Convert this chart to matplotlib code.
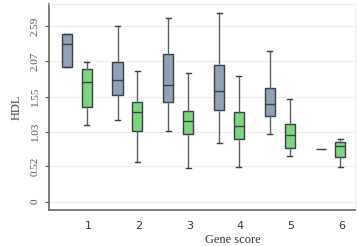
#!/usr/bin/env python3
"""Boxplot de HDL según gene score (dos grupos)."""

import matplotlib
matplotlib.use('Agg')
import matplotlib.pyplot as plt

plt.rcParams['font.family'] = 'serif'
plt.rcParams['font.serif'] = ['Liberation Serif', 'DejaVu Serif']

# Datos (whislo, q1, med, q3, whishi)
scores = [1, 2, 3, 4, 5, 6]
azul_lo = [1.99, 1.21, 1.04, 0.87, 1.00, 0.78]
azul_q1 = [1.99, 1.57, 1.47, 1.35, 1.26, 0.78]
azul_med = [2.33, 1.80, 1.72, 1.63, 1.44, 0.78]
azul_q3 = [2.48, 2.06, 2.18, 2.01, 1.67, 0.78]
azul_hi = [2.48, 2.59, 2.71, 2.78, 2.22, 0.78]

verde_lo = [1.13, 0.59, 0.49, 0.51, 0.67, 0.51]
verde_q1 = [1.40, 1.04, 0.99, 0.93, 0.79, 0.65]
verde_med = [1.77, 1.32, 1.19, 1.11, 0.98, 0.82]
verde_q3 = [1.96, 1.47, 1.34, 1.32, 1.15, 0.88]
verde_hi = [2.06, 1.93, 1.89, 1.86, 1.52, 0.93]

yticks = [0, 0.52, 1.03, 1.55, 2.07, 2.59]


def stats(lo, q1, med, q3, hi):
    return [dict(whislo=a, q1=b, med=c, q3=d, whishi=e, fliers=[])
            for a, b, c, d, e in zip(lo, q1, med, q3, hi)]


fig = plt.figure(figsize=(3.58, 2.46), dpi=100)
ax = fig.add_axes([0.137, 0.145, 0.855, 0.84])

linea = dict(color='#3a3f47', linewidth=1.0)
comun = dict(showfliers=False, patch_artist=True, widths=0.2,
             whiskerprops=dict(color='#5a5f66', linewidth=1.0),
             capprops=dict(color='#3a3f47', linewidth=1.0),
             medianprops=linea)

b1 = ax.bxp(stats(azul_lo, azul_q1, azul_med, azul_q3, azul_hi),
            positions=[s - 0.42 for s in scores],
            boxprops=dict(facecolor='#8fa2b8', edgecolor='#3a3f47', linewidth=1.0),
            **comun)
b2 = ax.bxp(stats(verde_lo, verde_q1, verde_med, verde_q3, verde_hi),
            positions=[s - 0.03 for s in scores],
            boxprops=dict(facecolor='#7dd67d', edgecolor='#3a3f47', linewidth=1.0),
            **comun)

# el grupo 6 azul solo muestra la mediana
for art in ('boxes', 'whiskers', 'caps'):
    items = b1[art]
    n = len(items) // len(scores)
    for it in items[-n:]:
        it.set_visible(False)

ax.set_xlim(0.23, 6.26)
ax.set_ylim(-0.13, 2.92)
ax.set_xticks(scores)
ax.set_xticklabels([str(s) for s in scores], family='sans-serif')
ax.set_yticks(yticks)
ax.set_yticklabels([str(t) for t in yticks], rotation=90, va='center', fontsize=8)
ax.tick_params(axis='x', length=0, labelsize=8, pad=8, colors='#333333')
ax.tick_params(axis='y', length=3, colors='#555555', labelcolor='#555555')
ax.grid(axis='y', color='#eeeeee', linewidth=0.8)
ax.set_axisbelow(True)

for lado in ('left', 'bottom'):
    ax.spines[lado].set_color('#666666')
    ax.spines[lado].set_linewidth(1.2)
for lado in ('top', 'right'):
    ax.spines[lado].set_color('#eeeeee')

ax.set_ylabel('HDL', fontsize=9, labelpad=6, color='#444444')
ax.set_xlabel('Gene score', fontsize=9, labelpad=2, x=0.6, color='#333333')

plt.savefig('out.png', dpi=100)
print('Guardado: out.png')
